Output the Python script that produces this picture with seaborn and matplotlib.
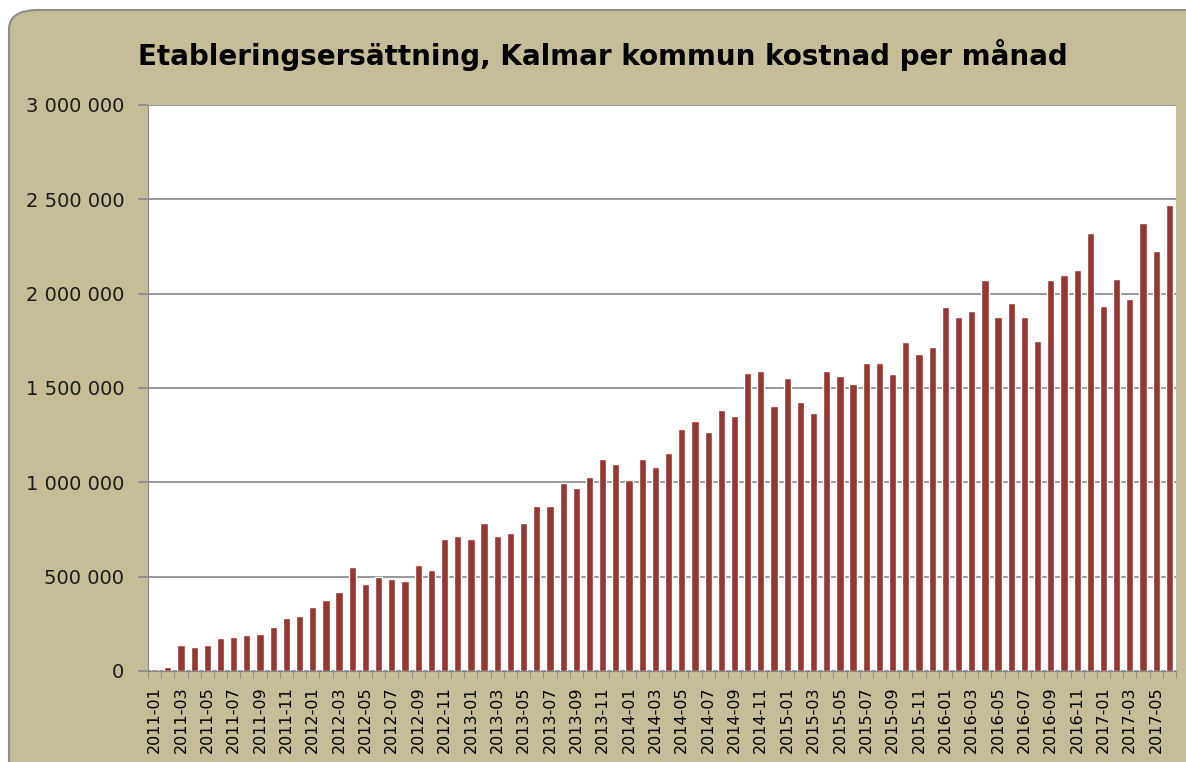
import numpy as np
import pandas as pd
import matplotlib
matplotlib.use("Agg")
import matplotlib.pyplot as plt
from matplotlib.patches import FancyBboxPatch
from matplotlib.ticker import FuncFormatter
import seaborn as sns

# monthly cost (SEK), 2011-01 .. 2017-06
years = [2011, 2012, 2013, 2014, 2015, 2016, 2017]
months = [f"{y}-{m:02d}" for y in years for m in range(1, 13)][:78]

cost = [
    10000, 20000, 138000, 129000, 138000, 173000, 180000, 189000, 198000, 232000, 283000, 290000,
    341000, 375000, 417000, 553000, 459000, 497000, 486000, 477000, 562000, 536000, 698000, 714000,
    698000, 783000, 714000, 731000, 783000, 876000, 876000, 996000, 968000, 1028000, 1122000, 1095000,
    1010000, 1122000, 1079000, 1155000, 1282000, 1325000, 1265000, 1386000, 1351000, 1581000, 1588000, 1403000,
    1554000, 1427000, 1369000, 1588000, 1563000, 1521000, 1631000, 1631000, 1572000, 1742000, 1682000, 1716000,
    1928000, 1878000, 1910000, 2072000, 1878000, 1952000, 1878000, 1749000, 2072000, 2097000, 2124000, 2320000,
    1936000, 2079000, 1970000, 2376000, 2224000, 2471000,
]

df = pd.DataFrame({"month": months, "cost": cost})

bg = "#C4BD97"
bar_col = "#953735"
grid_col = "#868686"

sns.set_style("white")
plt.rcParams["font.family"] = ["DejaVu Sans"]
plt.rcParams["text.color"] = "black"
plt.rcParams["xtick.color"] = "black"
plt.rcParams["ytick.color"] = "black"

fig = plt.figure(figsize=(11.86, 7.62), dpi=100)
fig.patch.set_facecolor("white")

# rounded chart background
frame = FancyBboxPatch((9 / 1186, -0.05), 1.2, 1.05 - 10 / 762,
                       boxstyle="round,pad=0,rounding_size=0.025",
                       transform=fig.transFigure, facecolor=bg,
                       edgecolor="#8C8C8C", linewidth=1.5, zorder=-10)
fig.patches.append(frame)

ax = fig.add_axes([148 / 1186, 1 - 671 / 762, (1176 - 148) / 1186, (671 - 105) / 762])
ax.set_zorder(5)
ax.set_facecolor("white")

sns.barplot(x="month", y="cost", data=df, color=bar_col, width=0.55,
            saturation=1, ax=ax, zorder=3)

ax.set_xlim(-0.5, len(months) - 0.5)
ax.set_ylim(0, 3000000)
ax.set_yticks(np.arange(0, 3000001, 500000))
ax.yaxis.set_major_formatter(FuncFormatter(lambda v, p: f"{int(v):,}".replace(",", " ")))
ax.yaxis.grid(True, color=grid_col, linewidth=1.2, zorder=0)
ax.set_axisbelow(True)

ax.set_xticks(range(0, len(months), 2))
ax.set_xticklabels(months[::2], rotation=90, fontsize=11.5)
ax.set_xticks(np.arange(-0.5, len(months), 1), minor=True)
ax.tick_params(axis="x", which="major", length=0, pad=11)
ax.tick_params(axis="x", which="minor", length=5, color=grid_col, direction="out", bottom=True)
ax.tick_params(axis="y", length=7, width=1.2, color=grid_col, direction="out", left=True,
               labelsize=14, pad=10, labelcolor="#1a1a1a")

ax.set_xlabel("")
ax.set_ylabel("")
for s in ["top", "right"]:
    ax.spines[s].set_visible(False)
ax.spines["left"].set_color(grid_col)
ax.spines["bottom"].set_color(grid_col)

fig.text(0.508, 1 - 55 / 762, "Etableringsersättning, Kalmar kommun kostnad per månad",
         ha="center", va="center", fontsize=20, fontweight="bold", color="black")

fig.savefig("out.png", dpi=100, facecolor=fig.get_facecolor())
